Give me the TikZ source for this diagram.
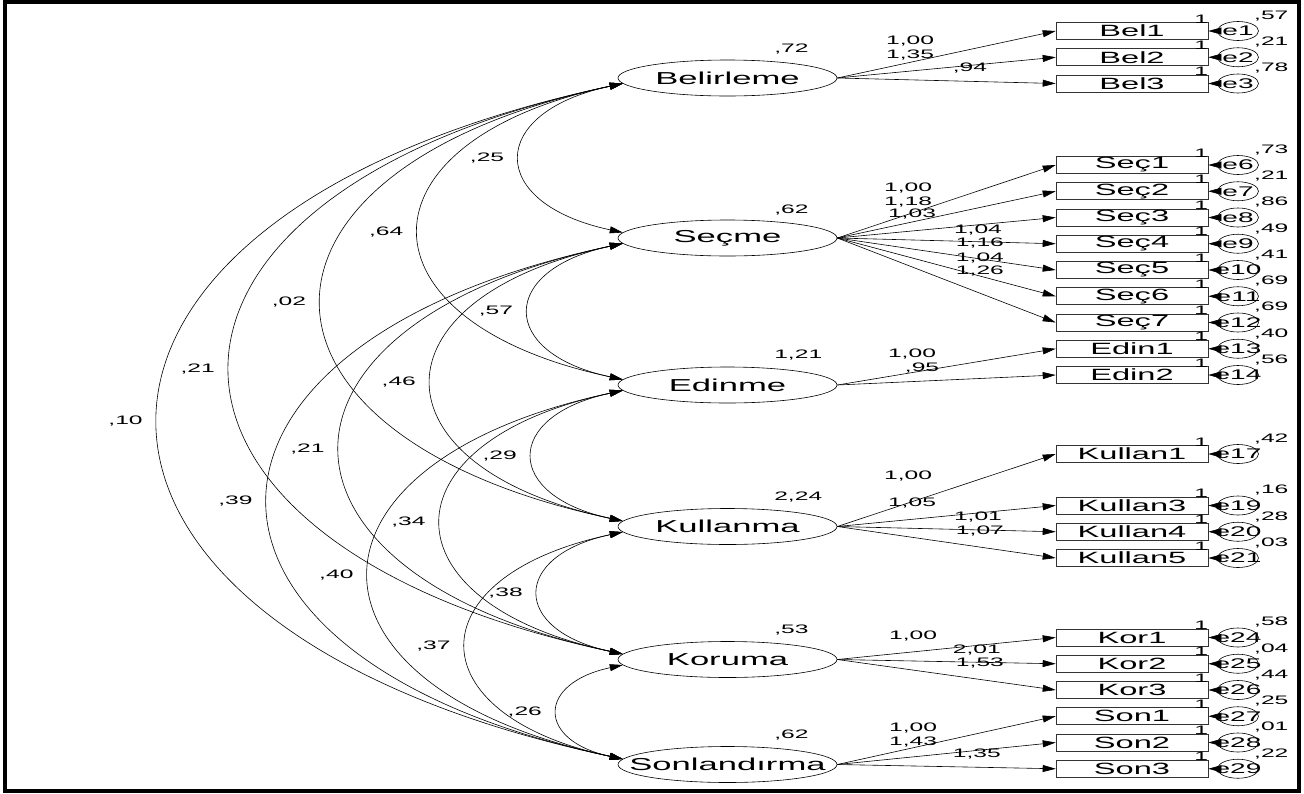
\documentclass[tikz,border=0pt]{standalone}
\usepackage{fontspec}
\setmainfont{Liberation Sans}[FakeStretch=2]
\usetikzlibrary{positioning}
\usetikzlibrary{shapes.geometric}
\usetikzlibrary{arrows.meta}
\newcommand{\ename}[1]{\makebox[0pt]{#1}}

\begin{document}
\begin{tikzpicture}[x=1pt,y=-1pt,node distance=26.25pt,on grid,line width=.6pt,
  >={Triangle[length=13pt,width=7pt]},
  latent/.style={ellipse,draw,minimum width=219pt,minimum height=36pt,inner sep=0pt,font=\fontsize{17.3}{20}\selectfont},
  obs/.style={draw=black!80,minimum width=152pt,minimum height=17pt,inner sep=0pt,font=\fontsize{16.3}{18}\selectfont},
  err/.style={ellipse,draw,minimum width=41pt,minimum height=19pt,inner sep=0pt,font=\fontsize{14}{16}\selectfont,label distance=7pt},
  num/.style={inner sep=1pt,font=\fontsize{12.3}{14}\selectfont},
  ev/.style={num,xshift=6pt},
  one/.style={num,pos=.5,xshift=-11.5pt,yshift=12pt},
  cov/.style={<->,out=192,in=168,looseness=2.4},
  cl/.style={num,midway,anchor=east,xshift=-15pt}]
   \useasboundingbox (0,0) rectangle (1304,793);
   \draw[line width=4pt] (5,2) rectangle (1299,791);

   \node[latent] (belirleme)   at (727.5,78)    {\ename{Belirleme}};
   \node[latent] (secme)       at (727.5,238)   {\ename{Seçme}};
   \node[latent] (edinme)      at (727.5,385)   {\ename{Edinme}};
   \node[latent] (kullanma)    at (727.5,526.5) {\ename{Kullanma}};
   \node[latent] (koruma)      at (727.5,659.5) {\ename{Koruma}};
   \node[latent] (sonlandirma) at (727.5,764.5) {\ename{Sonlandırma}};

   \node[num,anchor=west] (v_bel) at (773,49)  {,72};
   \node[num,anchor=west] (v_sec) at (773,210) {,62};
   \node[num,anchor=west] (v_edi) at (773,355) {1,21};
   \node[num,anchor=west] (v_kul) at (773,497) {2,24};
   \node[num,anchor=west] (v_kor) at (773,630) {,53};
   \node[num,anchor=west] (v_son) at (773,735) {,62};

   \node[obs] (bel1) at (1132,31) {Bel1};
   \node[obs] (bel2) [below=of bel1] {Bel2};
   \node[obs] (bel3) [below=of bel2] {Bel3};
   \node[obs] (sec1) at (1132,165) {Seç1};
   \node[obs] (sec2) [below=of sec1] {Seç2};
   \node[obs] (sec3) [below=of sec2] {Seç3};
   \node[obs] (sec4) [below=of sec3] {Seç4};
   \node[obs] (sec5) [below=of sec4] {Seç5};
   \node[obs] (sec6) [below=of sec5] {Seç6};
   \node[obs] (sec7) [below=of sec6] {Seç7};
   \node[obs] (edin1) [below=of sec7] {Edin1};
   \node[obs] (edin2) [below=of edin1] {Edin2};
   \node[obs] (kullan1) at (1132,454) {Kullan1};
   \node[obs] (kullan3) at (1132,505.5) {Kullan3};
   \node[obs] (kullan4) [below=of kullan3] {Kullan4};
   \node[obs] (kullan5) [below=of kullan4] {Kullan5};
   \node[obs] (kor1) at (1132,637.5) {Kor1};
   \node[obs] (kor2) [below=of kor1] {Kor2};
   \node[obs] (kor3) [below=of kor2] {Kor3};
   \node[obs] (son1) [below=of kor3] {Son1};
   \node[obs] (son2) [below=of son1] {Son2};
   \node[obs] (son3) [below=of son2] {Son3};

   \node[err,label={[ev]45:{,57}}] (e1) [right=106pt of bel1] {\ename{e1}};
   \node[err,label={[ev]45:{,21}}] (e2) [right=106pt of bel2] {\ename{e2}};
   \node[err,label={[ev]45:{,78}}] (e3) [right=106pt of bel3] {\ename{e3}};
   \node[err,label={[ev]45:{,73}}] (e6) [right=106pt of sec1] {\ename{e6}};
   \node[err,label={[ev]45:{,21}}] (e7) [right=106pt of sec2] {\ename{e7}};
   \node[err,label={[ev]45:{,86}}] (e8) [right=106pt of sec3] {\ename{e8}};
   \node[err,label={[ev]45:{,49}}] (e9) [right=106pt of sec4] {\ename{e9}};
   \node[err,label={[ev]45:{,41}}] (e10) [right=106pt of sec5] {\ename{e10}};
   \node[err,label={[ev]45:{,69}}] (e11) [right=106pt of sec6] {\ename{e11}};
   \node[err,label={[ev]45:{,69}}] (e12) [right=106pt of sec7] {\ename{e12}};
   \node[err,label={[ev]45:{,40}}] (e13) [right=106pt of edin1] {\ename{e13}};
   \node[err,label={[ev]45:{,56}}] (e14) [right=106pt of edin2] {\ename{e14}};
   \node[err,label={[ev]45:{,42}}] (e17) [right=106pt of kullan1] {\ename{e17}};
   \node[err,label={[ev]45:{,16}}] (e19) [right=106pt of kullan3] {\ename{e19}};
   \node[err,label={[ev]45:{,28}}] (e20) [right=106pt of kullan4] {\ename{e20}};
   \node[err,label={[ev]45:{,03}}] (e21) [right=106pt of kullan5] {\ename{e21}};
   \node[err,label={[ev]45:{,58}}] (e24) [right=106pt of kor1] {\ename{e24}};
   \node[err,label={[ev]45:{,04}}] (e25) [right=106pt of kor2] {\ename{e25}};
   \node[err,label={[ev]45:{,44}}] (e26) [right=106pt of kor3] {\ename{e26}};
   \node[err,label={[ev]45:{,25}}] (e27) [right=106pt of son1] {\ename{e27}};
   \node[err,label={[ev]45:{,01}}] (e28) [right=106pt of son2] {\ename{e28}};
   \node[err,label={[ev]45:{,22}}] (e29) [right=106pt of son3] {\ename{e29}};

    \path[->]
    (belirleme.east) edge node[num,pos=.333,yshift=21pt] {1,00} (bel1.west)
    (belirleme.east) edge node[num,pos=.333,yshift=16pt] {1,35} (bel2.west)
    (belirleme.east) edge node[num,pos=.607,yshift=13pt] {,94} (bel3.west)
    (secme.east) edge node[num,pos=.324,yshift=26pt] {1,00} (sec1.west)
    (secme.east) edge node[num,pos=.324,yshift=21pt] {1,18} (sec2.west)
    (secme.east) edge node[num,pos=.342,yshift=17pt] {1,03} (sec3.west)
    (secme.east) edge node[num,pos=.644,yshift=12pt] {1,04} (sec4.west)
    (secme.east) edge node[num,pos=.653,yshift=16pt] {1,16} (sec5.west)
    (secme.east) edge node[num,pos=.653,yshift=18pt] {1,04} (sec6.west)
    (secme.east) edge node[num,pos=.653,yshift=22pt] {1,26} (sec7.west)
    (edinme.east) edge node[num,pos=.342,yshift=18.5pt] {1,00} (edin1.west)
    (edinme.east) edge node[num,pos=.388,yshift=13pt] {,95} (edin2.west)
    (kullanma.east) edge node[num,pos=.324,yshift=27pt] {1,00} (kullan1.west)
    (kullanma.east) edge node[num,pos=.342,yshift=16pt] {1,05} (kullan3.west)
    (kullanma.east) edge node[num,pos=.644,yshift=13pt] {1,01} (kullan4.west)
    (kullanma.east) edge node[num,pos=.653,yshift=16pt] {1,07} (kullan5.west)
    (koruma.east) edge node[num,pos=.347,yshift=16pt] {1,00} (kor1.west)
    (koruma.east) edge node[num,pos=.639,yshift=12pt] {2,01} (kor2.west)
    (koruma.east) edge node[num,pos=.653,yshift=16pt] {1,53} (kor3.west)
    (sonlandirma.east) edge node[num,pos=.347,yshift=20pt] {1,00} (son1.west)
    (sonlandirma.east) edge node[num,pos=.347,yshift=15pt] {1,43} (son2.west)
    (sonlandirma.east) edge node[num,pos=.639,yshift=13pt] {1,35} (son3.west);

    \path[->]
    (e1) edge node[one] {1} (bel1)
    (e2) edge node[one] {1} (bel2)
    (e3) edge node[one] {1} (bel3)
    (e6) edge node[one] {1} (sec1)
    (e7) edge node[one] {1} (sec2)
    (e8) edge node[one] {1} (sec3)
    (e9) edge node[one] {1} (sec4)
    (e10) edge node[one] {1} (sec5)
    (e11) edge node[one] {1} (sec6)
    (e12) edge node[one] {1} (sec7)
    (e13) edge node[one] {1} (edin1)
    (e14) edge node[one] {1} (edin2)
    (e17) edge node[one] {1} (kullan1)
    (e19) edge node[one] {1} (kullan3)
    (e20) edge node[one] {1} (kullan4)
    (e21) edge node[one] {1} (kullan5)
    (e24) edge node[one] {1} (kor1)
    (e25) edge node[one] {1} (kor2)
    (e26) edge node[one] {1} (kor3)
    (e27) edge node[one] {1} (son1)
    (e28) edge node[one] {1} (son2)
    (e29) edge node[one] {1} (son3);

    \path
    (belirleme.183) edge[cov] node[cl] {,25} (secme.177)
    (belirleme.183) edge[cov] node[cl] {,64} (edinme.177)
    (belirleme.183) edge[cov] node[cl] {,02} (kullanma.177)
    (belirleme.183) edge[cov] node[cl] {,21} (koruma.177)
    (belirleme.183) edge[cov] node[cl] {,10} (sonlandirma.177)
    (secme.183) edge[cov] node[cl] {,57} (edinme.177)
    (secme.183) edge[cov] node[cl] {,46} (kullanma.177)
    (secme.183) edge[cov] node[cl] {,21} (koruma.177)
    (secme.183) edge[cov] node[cl] {,39} (sonlandirma.177)
    (edinme.183) edge[cov] node[cl] {,29} (kullanma.177)
    (edinme.183) edge[cov] node[cl] {,34} (koruma.177)
    (edinme.183) edge[cov] node[cl] {,40} (sonlandirma.177)
    (kullanma.183) edge[cov] node[cl] {,38} (koruma.177)
    (kullanma.183) edge[cov] node[cl] {,37} (sonlandirma.177)
    (koruma.183) edge[cov] node[cl] {,26} (sonlandirma.177);

\end{tikzpicture}
\end{document}
